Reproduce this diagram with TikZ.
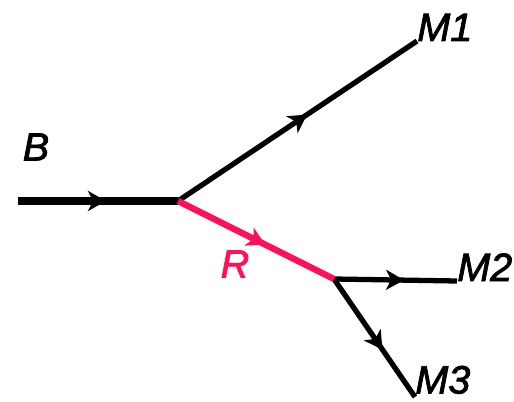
\documentclass[tikz,border=0pt]{standalone}
\usepackage{fontspec}
\setmainfont{Liberation Sans}
\newfontfamily\lblfont{Liberation Sans}[ItalicFeatures={FakeBold=2}]
\usepackage{xcolor}
\usepackage{tikz}
\usetikzlibrary{arrows.meta,decorations.markings}
\definecolor{decaycol}{RGB}{255,16,88}

\begin{document}
\begin{tikzpicture}[x=0.02cm,y=-0.02cm,
  line/.style={line width=3pt},
  midarrow/.style={postaction={decorate},decoration={markings,
    mark=at position #1 with {\arrow{Stealth[length=0.36cm,width=0.4cm,inset=0.1cm]}}}},
  lbl/.style={font=\lblfont\fontsize{22.5}{26}\selectfont\itshape,inner sep=0pt}]
\useasboundingbox (0,0) rectangle (514,402);
% ---------- vertices and ends ----------
\coordinate (in) at (18,201);
\coordinate (v1) at (178,201);
\coordinate (v2) at (334,279);
\coordinate (m1) at (417,41);
\coordinate (m2) at (457,281);
\coordinate (m3) at (415,397);
% ---------- lines ----------
\draw[line,line width=4.8pt,midarrow=0.55] (in) -- (v1);
\draw[line,midarrow=0.54] (v1) -- (m1);
\draw[line,midarrow=0.57] (v2) -- (m2);
\draw[line,midarrow=0.6] (v2) -- (m3);
\draw[line,color=decaycol,line width=3.6pt,midarrow=0.56] (v1) -- (v2);
% ---------- labels ----------
\node[lbl] (labB) at (36,147) {B};
\node[lbl,text=decaycol] (labR) at (235,264) {R};
\node[lbl,anchor=base west] (labM1) at (m1) {M1};
\node[lbl,anchor=base west] (labM2) at (m2) {M2};
\node[lbl,anchor=base west] (labM3) at ([yshift=2]m3) {M3};
\end{tikzpicture}
\end{document}
